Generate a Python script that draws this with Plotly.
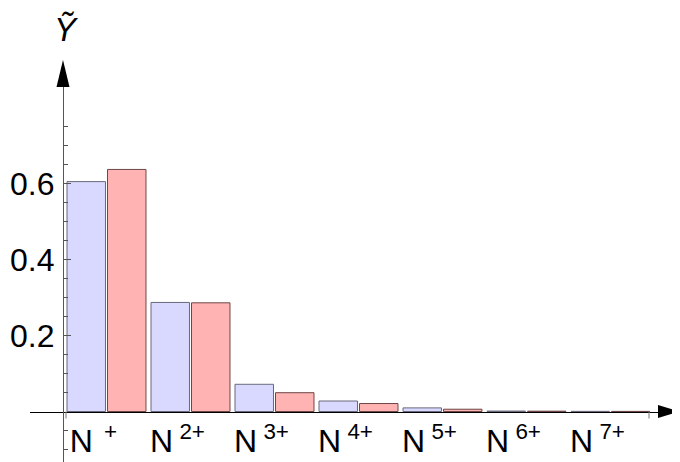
import plotly.graph_objects as go

# ---- data ----
categories = ["N<sup>\u2002+</sup>", "N<sup>\u00a02+</sup>", "N<sup>\u00a03+</sup>", "N<sup>\u00a04+</sup>",
              "N<sup>\u00a05+</sup>", "N<sup>\u00a06+</sup>", "N<sup>\u00a07+</sup>"]
series_blue = [0.605, 0.287, 0.0716, 0.0276, 0.0095, 0.0012, 0.0004]
series_red = [0.637, 0.286, 0.0495, 0.021, 0.006, 0.0009, 0.0003]
y_tick_vals = [0.2, 0.4, 0.6]
y_tick_text = ["0.2", "0.4", "0.6"]
y_minor_vals = [-0.1, -0.05, 0.05, 0.1, 0.15, 0.25, 0.3, 0.35, 0.45, 0.5, 0.55, 0.65, 0.7, 0.75]
y_label = "<i>Ỹ</i>"

# page body has an 8px margin: size the figure so it fits the 680x462 window
OFF = 8
W, H = 680 - OFF, 462 - OFF
FONT = "Liberation Sans, Arial, sans-serif"

def fx(x):  # window px -> paper
    return (x - OFF) / W

def fy(y):
    return (H - (y - OFF)) / H

# pixel layout (window coordinates)
x0_px, x_scale = 106.5, 84.0      # category 0 centre, px per category
y0_px, y_scale = 411.5, 380.0     # value 0 position, px per unit
xl, xr = 30.0, 658.0               # x-axis line extents
ytop = 87.0                        # y-axis line top (arrow base)
ybot = 462.0
yaxis_px = 63.0

idx = list(range(len(categories)))

fig = go.Figure()
fig.add_trace(go.Bar(x=idx, y=series_blue, marker=dict(color="rgb(217,217,255)",
                     line=dict(color="rgb(105,105,125)", width=1)), showlegend=False))
fig.add_trace(go.Bar(x=idx, y=series_red, marker=dict(color="rgb(255,179,179)",
                     line=dict(color="rgb(110,70,70)", width=1)), showlegend=False))

fig.update_layout(
    width=W, height=H, margin=dict(l=0, r=0, t=0, b=0),
    paper_bgcolor="white", plot_bgcolor="white",
    barmode="group", bargap=3 / 84, bargroupgap=0.05,
    font=dict(family=FONT, color="black"),
    xaxis=dict(
        domain=[fx(xl), fx(xr)],
        range=[(xl - x0_px) / x_scale, (xr - x0_px) / x_scale],
        anchor="free", position=fy(y0_px),
        showline=True, linecolor="black", linewidth=1.3,
        showgrid=False, zeroline=False,
        tickmode="array", tickvals=idx, ticktext=categories,
        ticks="", tickfont=dict(size=32, family=FONT),
        ticklabelshift=-13, ticklabelstandoff=1,
    ),
    yaxis=dict(
        domain=[fy(ybot), fy(ytop)],
        range=[(y0_px - ybot) / y_scale, (y0_px - ytop) / y_scale],
        anchor="free", position=fx(yaxis_px), side="left",
        showline=True, linecolor="rgb(85,85,85)", linewidth=1.2,
        showgrid=False, zeroline=False,
        tickmode="array", tickvals=y_tick_vals, ticktext=y_tick_text,
        ticks="inside", ticklen=7, tickcolor="rgb(85,85,85)", tickwidth=1,
        tickfont=dict(size=32, family=FONT), ticklabelstandoff=2,
        minor=dict(tickmode="array", tickvals=y_minor_vals, ticks="inside",
                   ticklen=4, tickcolor="rgb(85,85,85)", tickwidth=1, showgrid=False),
    ),
)

shapes = []
# arrowheads
shapes.append(dict(type="path", xref="paper", yref="paper",
                   path=f"M {fx(yaxis_px)} {fy(60)} L {fx(yaxis_px-6.5)} {fy(ytop)} L {fx(yaxis_px+6.5)} {fy(ytop)} Z",
                   fillcolor="black", line=dict(width=0)))
shapes.append(dict(type="path", xref="paper", yref="paper",
                   path=f"M {fx(680)} {fy(y0_px)} L {fx(xr)} {fy(y0_px-6.5)} L {fx(xr)} {fy(y0_px+6.5)} Z",
                   fillcolor="black", line=dict(width=0)))
# small x-axis edge ticks
for xt in (66, 649):
    shapes.append(dict(type="line", xref="paper", yref="paper",
                       x0=fx(xt), x1=fx(xt), y0=fy(y0_px), y1=fy(y0_px + 7),
                       line=dict(color="rgb(120,120,120)", width=1)))
fig.update_layout(shapes=shapes)

fig.add_annotation(x=fx(66), y=fy(29), xref="paper", yref="paper",
                   xanchor="center", yanchor="middle",
                   text=y_label, showarrow=False,
                   font=dict(size=33, family=FONT, color="black"))

fig.write_html("out.html")
